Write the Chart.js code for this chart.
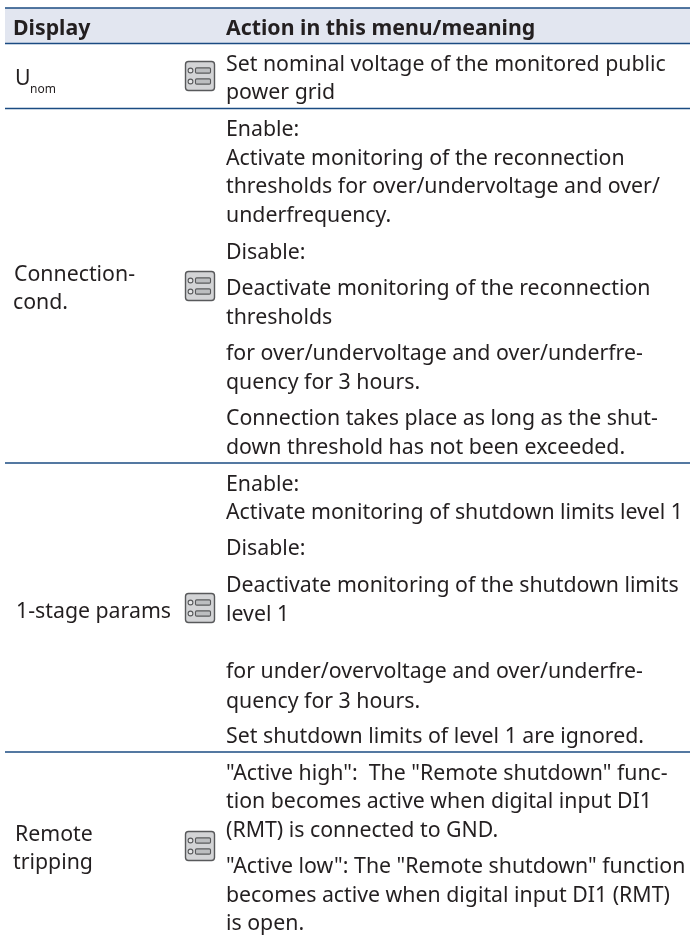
<!DOCTYPE html>
<html><head><meta charset="utf-8">
<style>html,body{margin:0;padding:0;background:#fff}canvas{display:block}</style>
<script src="https://cdn.jsdelivr.net/npm/chart.js@4"></script>
</head><body><canvas id="c" width="690" height="937"></canvas>
<script>
const headers = ["Display", "Action in this menu/meaning"];
const headerX = [13, 226];
const headerY = [35, 35];
const displayLabels = ["U", "nom", "Connection-", "cond.", "1-stage params", "Remote", "tripping"];
const displayX = [15, 30, 14, 13, 16, 15, 13];
const displayY = [85, 93, 281, 309, 618, 841, 869];
const actionLines = [
 "Set nominal voltage of the monitored public","power grid",
 "Enable:","Activate monitoring of the reconnection","thresholds for over/undervoltage and over/","underfrequency.",
 "Disable:","Deactivate monitoring of the reconnection","thresholds","for over/undervoltage and over/underfre-","quency for 3 hours.",
 "Connection takes place as long as the shut-","down threshold has not been exceeded.",
 "Enable:","Activate monitoring of shutdown limits level 1","Disable:","Deactivate monitoring of the shutdown limits","level 1",
 "for under/overvoltage and over/underfre-","quency for 3 hours.","Set shutdown limits of level 1 are ignored.",
 "\"Active high\":  The \"Remote shutdown\" func-","tion becomes active when digital input DI1","(RMT) is connected to GND.",
 "\"Active low\": The \"Remote shutdown\" function","becomes active when digital input DI1 (RMT)","is open."
];
const actionY = [71,99,136,165,193,222,259,295,324,360,389,425,454,491,519,555,592,621,678,708,743,780,808,837,873,902,930];
const actionX = 226;
const ruleY = [8,43.5,108.5,463,752];
const ruleStart = 5, ruleEnd = 690;
const iconX = [200,200,200,200];
const iconY = [76,286,608,846];
const NAVY='#1b4b82', INK='#231f20', BAND='#e2e6f0';
const FONT='"Noto Sans"';

function makeIcon(){
  const k=document.createElement('canvas');k.width=32;k.height=32;const g=k.getContext('2d');
  g.fillStyle='#d3d4d6';g.strokeStyle='#58595b';g.lineWidth=1.4;
  g.beginPath();g.roundRect(1.5,1.5,29,29,3);g.fill();g.stroke();
  [10.5,21.5].forEach(y=>{
    g.fillStyle='#e6e7e8';g.lineWidth=1.1;g.beginPath();g.arc(6.5,y,2.4,0,Math.PI*2);g.fill();g.stroke();
    g.fillStyle='#bcbec0';g.beginPath();g.roundRect(11.5,y-2.6,15,5.2,1.2);g.fill();g.stroke();
  });
  return k;
}
const textPlugin={id:'tableText',
 beforeDatasetsDraw(ch){
  const {ctx,scales:{x,y}}=ch;ctx.save();ctx.fillStyle=BAND;
  ctx.fillRect(x.getPixelForValue(ruleStart),y.getPixelForValue(ruleY[0]),x.getPixelForValue(ruleEnd)-x.getPixelForValue(ruleStart),y.getPixelForValue(ruleY[1])-y.getPixelForValue(ruleY[0]));
  ctx.restore();
 },
 afterDatasetsDraw(ch){
  const {ctx,scales:{x,y}}=ch;ctx.save();ctx.textBaseline='alphabetic';ctx.fillStyle=INK;
  ctx.font='bold 21.3px '+FONT;
  headers.forEach((t,i)=>ctx.fillText(t,x.getPixelForValue(headerX[i]),y.getPixelForValue(headerY[i])));
  displayLabels.forEach((t,i)=>{ctx.font=(t==='nom'?'12px ':'21.3px ')+FONT;ctx.fillText(t,x.getPixelForValue(displayX[i]),y.getPixelForValue(displayY[i]));});
  ctx.font='21.3px '+FONT;
  actionLines.forEach((t,i)=>ctx.fillText(t,x.getPixelForValue(actionX),y.getPixelForValue(actionY[i])));
  ctx.restore();
 }};
const icon=makeIcon();
new Chart(document.getElementById('c'),{
 type:'scatter',
 data:{datasets:[
  ...ruleY.map(v=>({type:'line',data:[{x:ruleStart,y:v},{x:ruleEnd,y:v}],borderColor:NAVY,borderWidth:1.4,pointRadius:0,clip:false})),
  {data:iconX.map((v,i)=>({x:v,y:iconY[i]})),pointStyle:icon,pointRadius:16,showLine:false,clip:false}
 ]},
 plugins:[textPlugin],
 options:{responsive:false,animation:false,events:[],layout:{padding:0,autoPadding:false},
  plugins:{legend:{display:false},tooltip:{enabled:false},title:{display:false}},
  scales:{x:{type:'linear',min:0,max:690,display:false},y:{type:'linear',min:0,max:937,reverse:true,display:false}}}
});
</script></body></html>
